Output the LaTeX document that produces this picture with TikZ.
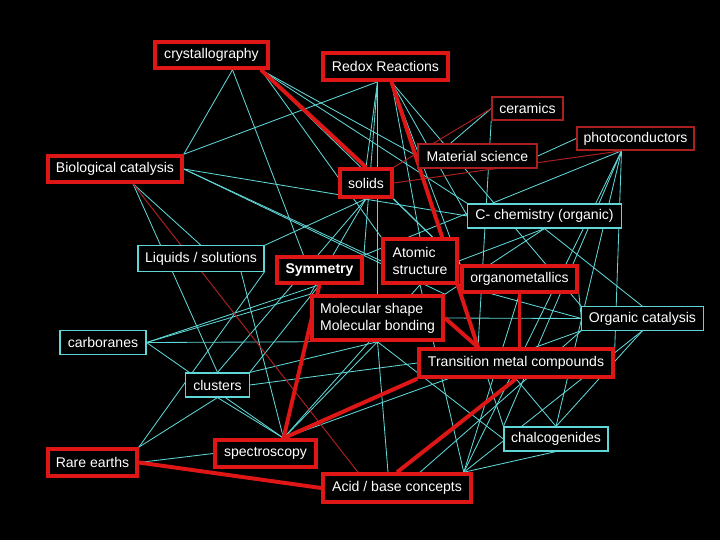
\documentclass[tikz,border=0pt]{standalone}
\usepackage{fontspec}
\setmainfont{Liberation Sans}
\usetikzlibrary{calc,backgrounds}
\definecolor{boxred}{RGB}{222,22,22}
\definecolor{thinred}{RGB}{170,32,32}
\definecolor{linkcyan}{RGB}{96,214,214}

\begin{document}
\begin{tikzpicture}[x=0.025cm, y=-0.025cm,
    concept/.style={rectangle, draw=boxred, line width=2.5pt, fill=black, text=white, inner sep=2pt},
    minor/.style={rectangle, draw=thinred, line width=1pt, fill=black, text=white, inner sep=2pt},
    topic/.style={rectangle, draw=linkcyan, line width=0.8pt, fill=black, text=white, inner sep=2pt},
    link/.style={draw=linkcyan, line width=0.6pt},
    strong/.style={draw=boxred, line width=2.8pt},
    weak/.style={draw=thinred, line width=0.7pt}
]
    % Top row
    \node[concept, minimum width=2.83cm, minimum height=0.65cm] (cr) at (211.5,55) {crystallography};
    \node[concept, minimum width=3.13cm, minimum height=0.68cm] (rx) at (385.5,66.5) {Redox Reactions};
    \node[minor, minimum width=1.78cm, minimum height=0.58cm] (ce) at (527.5,108.5) {ceramics};
    \node[minor, minimum width=2.93cm, minimum height=0.58cm] (ph) at (635.5,138.5) {photoconductors};
    \node[minor, minimum width=2.98cm, minimum height=0.6cm] (ms) at (477.5,156) {Material science};
    \node[concept, minimum width=3.35cm, minimum height=0.65cm] (bc) at (115,169) {Biological catalysis};
    \node[concept, minimum width=1.3cm, minimum height=0.7cm] (so) at (366,183) {solids};
    \node[topic, minimum width=3.83cm, minimum height=0.6cm] (cc) at (544.5,216) {C- chemistry (organic)};

    % Middle
    \node[topic, minimum width=3.15cm, minimum height=0.63cm] (lq) at (201,258.5) {Liquids / solutions};
    \node[concept, minimum width=2.13cm, minimum height=0.65cm, font=\bfseries] (sy) at (319.5,270) {Symmetry};
    \node[concept, minimum width=1.85cm, minimum height=1.1cm, align=left] (at) at (420,261) {Atomic\\structure};
    \node[concept, minimum width=2.88cm, minimum height=0.65cm] (om) at (519.5,279) {organometallics};
    \node[concept, minimum width=3.28cm, minimum height=1.1cm, align=left] (mo) at (377.5,318) {Molecular shape\\Molecular bonding};
    \node[topic, minimum width=3.03cm, minimum height=0.58cm] (oc) at (642.5,318.5) {Organic catalysis};
    \node[topic, minimum width=2.15cm, minimum height=0.58cm] (cb) at (103,342.5) {carboranes};
    \node[concept, minimum width=4.85cm, minimum height=0.7cm] (tm) at (516,363) {Transition metal compounds};

    % Bottom
    \node[topic, minimum width=1.58cm, minimum height=0.6cm] (cl) at (217.5,385) {clusters};
    \node[topic, minimum width=2.6cm, minimum height=0.6cm] (ch) at (556,439) {chalcogenides};
    \node[concept, minimum width=2.23cm, minimum height=0.68cm] (re) at (92.5,462.5) {Rare earths};
    \node[concept, minimum width=2.53cm, minimum height=0.68cm] (sp) at (265.5,453.5) {spectroscopy};
    \node[concept, minimum width=3.7cm, minimum height=0.7cm] (ab) at (397,488) {Acid / base concepts};

    % Meeting points on the boxes
    \coordinate (crA) at ($(cr.south)+(21,0)$);
    \coordinate (crB) at ($(cr.south east)+(-9,0)$);
    \coordinate (rxA) at ($(rx.south)+(-8,0)$);
    \coordinate (rxB) at ($(rx.south)+(6,0)$);
    \coordinate (bcA) at ($(bc.south)+(18,0)$);
    \coordinate (phA) at ($(ph.south)+(-14,0)$);
    \coordinate (msA) at ($(ms.north)+(-27,0)$);
    \coordinate (syA) at ($(sy.north)+(-16,0)$);
    \coordinate (lqA) at ($(lq.south)+(40,0)$);
    \coordinate (tmA) at ($(tm.north)+(-38,0)$);
    \coordinate (spA) at ($(sp.north)+(18,0)$);
    \coordinate (abA) at ($(ab.north east)+(-9,0)$);
    \coordinate (abB) at ($(ab.north)+(-39,0)$);
    \coordinate (abC) at ($(ab.north)+(23,0)$);
    \coordinate (abD) at ($(ab.north)+(-9,0)$);

    \begin{scope}[on background layer]
    \fill[black] (0,0) rectangle (720,540);

    % Links
    \draw[link] (crA) -- (bc.north east);
    \draw[link] (crA) -- (syA);
    \draw[link] (crB) -- (ms.west);
    \draw[link] (crB) -- (at.north west);
    \draw[link] (crB) -- (cc.north west);
    \draw[link] (crB) -- (om.north west);
    \draw[link] (bc.north east) -- (rxA);
    \draw[link] (bc.east) -- (cc.west);
    \draw[link] (bc.east) -- (at.west);
    \draw[link] (bc.east) -- (mo.north east);
    \draw[link] (bcA) -- (cl.north);
    \draw[link] (bcA) -- (lq.north);
    \draw[link] (rxA) -- (so.north);
    \draw[link] (rxA) -- (sy.north east);
    \draw[link] (rxA) -- (mo.north);
    \draw[link] (rxB) -- (at.north);
    \draw[link] (rxB) -- (om.north west);
    \draw[link] (rxB) -- (cc.west);
    \draw[link] (rxB) -- (oc.north west);
    \draw[link] (rxB) -- (ch.north west);
    \draw[link] (ce.west) -- (msA);
    \draw[link] (ce.south west) -- (tmA);
    \draw[link] (ph.west) -- (ms.east);
    \draw[link] (phA) -- (sy.north east);
    \draw[link] (phA) -- (abA);
    \draw[link] (phA) -- (ch.north west);
    \draw[link] (phA) -- (ch.north);
    \draw[link] (phA) -- (tm.north east);
    \draw[link] (so.south) -- (cl.north);
    \draw[link] (so.south) -- (mo.north west);
    \draw[link] (so.south east) -- (om.north west);
    \draw[link] (lq.north east) -- (so.south);
    \draw[link] (sy.south) -- (cb.east);
    \draw[link] (sy.south) -- (cl.north east);
    \draw[link] (re.north east) -- (lq.south east);
    \draw[link] (re.north east) -- (cl.south);
    \draw[link] (lqA) -- (spA);
    \draw[link] (cb.east) -- (mo.north west);
    \draw[link] (cb.east) -- (mo.south west);
    \draw[link] (cb.east) -- (spA);
    \draw[link] (cl.east) -- (tm.west);
    \draw[link] (cl.south) -- (spA);
    \draw[link] (cl.north east) -- (mo.south);
    \draw[link] (spA) -- (mo.south);
    \draw[link] (spA) -- (at.south);
    \draw[link] (spA) -- (oc.south west);
    \draw[link] (re.east) -- (sp.west);
    \draw[link] (mo.east) -- (oc.west);
    \draw[link] (mo.south) -- (ch.west);
    \draw[link] (mo.south) -- (abD);
    \draw[link] (cc.south) -- (oc.north);
    \draw[link] (cc.south) -- (at.east);
    \draw[link] (cc.south) -- (mo.north east);
    \draw[link] (oc.west) -- (om.south east);
    \draw[link] (oc.west) -- (at.south east);
    \draw[link] (oc.south) -- (ch.north);
    \draw[link] (oc.south) -- (abA);
    \draw[link] (ch.south) -- (abA);
    \draw[link] (ch.north) -- (tm.south);
    \draw[link] (abA) -- (om.south);
    \draw[link] (abA) -- (at.south);
    \draw[link] (abC) -- (oc.south west);

    % Weak links
    \draw[weak] (ce.west) -- (so.north east);
    \draw[weak] (phA) -- (so.east);
    \draw[weak] (bcA) -- (abB);

    % Strong links
    \draw[strong] (crB) -- (so.north);
    \draw[strong] (rxB) -- (tmA);
    \draw[strong] (sy.south) -- (spA);
    \draw[strong] (mo.east) -- (tmA);
    \draw[strong] (om.south) -- (om.south |- tm.north);
    \draw[strong] (tm.south west) -- (spA);
    \draw[strong] (tm.south) -- (ab.north);
    \draw[strong] (re.east) -- (ab.west);
    \end{scope}
\end{tikzpicture}
\end{document}
